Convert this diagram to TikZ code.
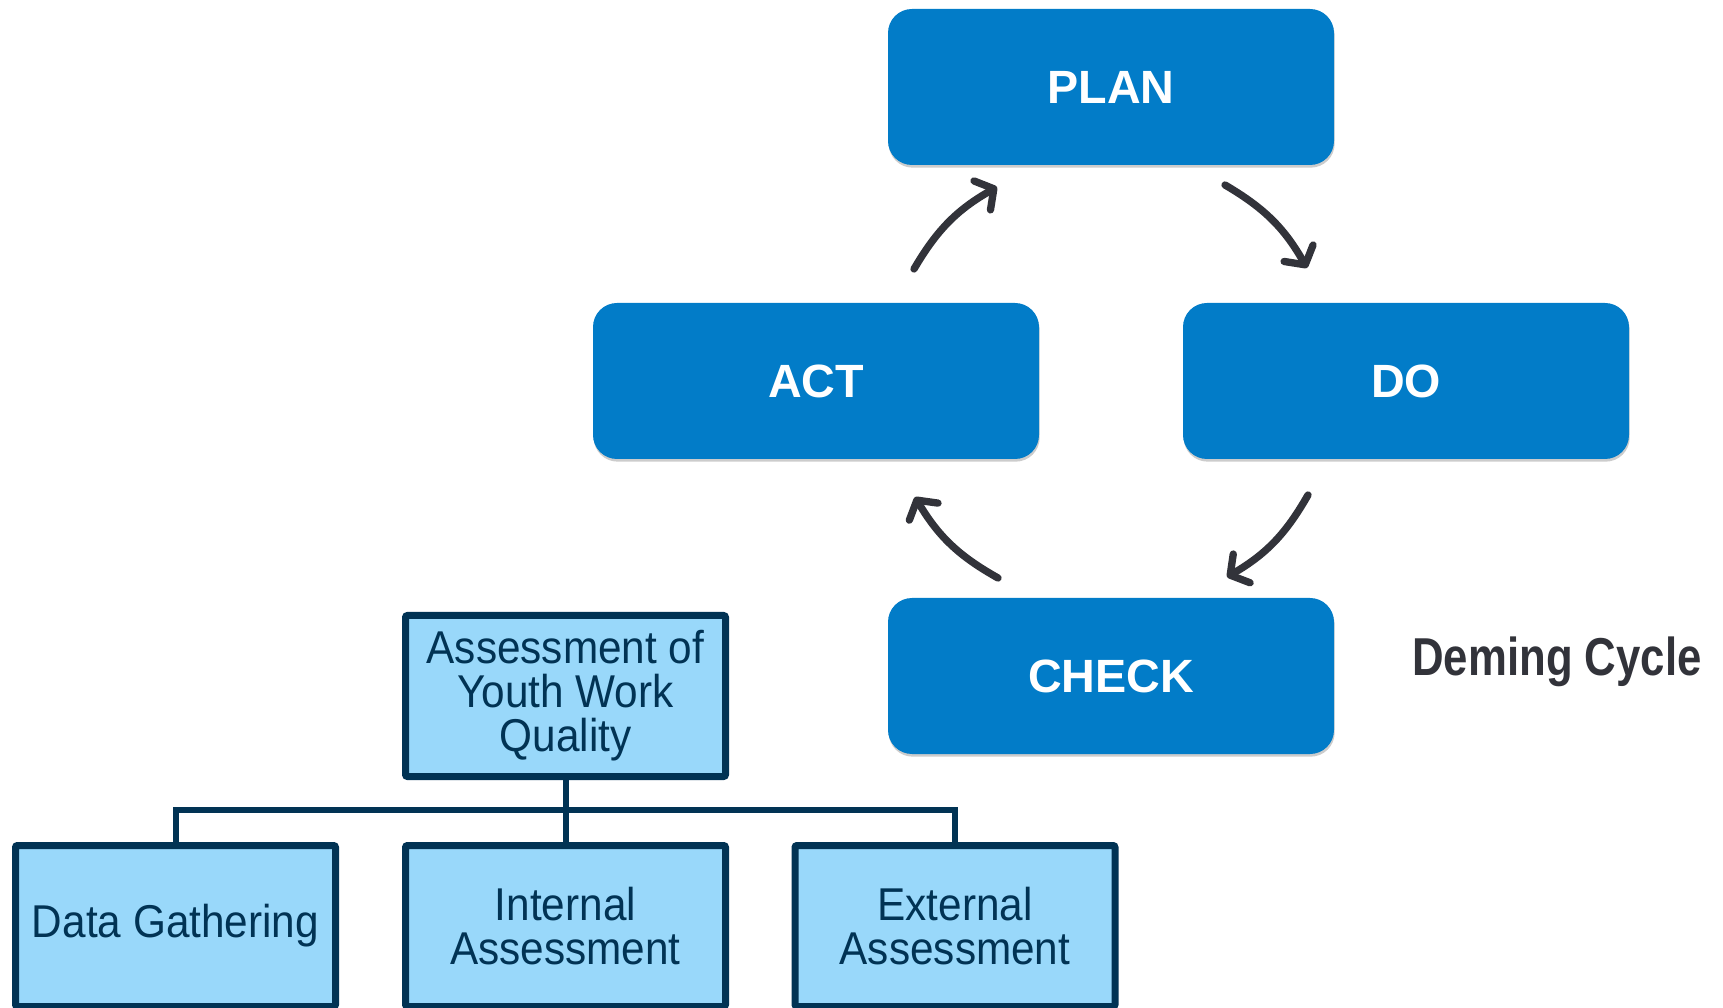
\documentclass[tikz,border=0pt]{standalone}
\usepackage{fontspec}
\setmainfont{Liberation Sans}
\newfontfamily\narrowsans[FakeStretch=0.92]{Liberation Sans}
\newfontfamily\titlesans[FakeStretch=0.82]{Liberation Sans}
\usetikzlibrary{arrows.meta,shadows}
\definecolor{pdcablue}{RGB}{2,124,200}
\definecolor{arrowgray}{RGB}{50,51,58}
\definecolor{treenavy}{RGB}{1,51,84}
\definecolor{treelight}{RGB}{153,216,250}
\begin{document}
\begin{tikzpicture}[x=0.75pt,y=0.75pt,
    phase/.style={rectangle, rounded corners=18pt, fill=pdcablue, text=white,
        minimum width=334.5pt, minimum height=117pt, inner sep=0pt,
        font=\bfseries\fontsize{35}{42}\selectfont,
        drop shadow={shadow xshift=0.5pt, shadow yshift=-2pt, opacity=0.2, fill=black}},
    cyclearrow/.style={draw=arrowgray, line width=5.5pt, line cap=round,
        -{Straight Barb[length=10pt, width=25pt, line cap=round, line join=round]}},
    treebox/.style={rectangle, draw=treenavy, line width=5.25pt, fill=treelight,
        text=treenavy, rounded corners=1.5pt, minimum width=240pt, minimum height=120.75pt,
        inner sep=0pt, align=center, font=\narrowsans\fontsize{34.5}{33}\selectfont,
        drop shadow={shadow xshift=1pt, shadow yshift=-1pt, opacity=0.2, fill=black}},
    treeline/.style={draw=treenavy, line width=4.5pt}]
    \useasboundingbox (0,0) rectangle (1723,1007);
    % Deming cycle
    \node[phase] (plan) at (1111, 920) {PLAN};
    \node[phase] (act) at (816, 626) {ACT};
    \node[phase] (do) at (1406, 626) {DO};
    \node[phase] (check) at (1111, 331) {CHECK};
    \node[font=\titlesans\bfseries\fontsize{40}{48}\selectfont, text=arrowgray] (deming) at (1557, 345) {Deming Cycle};
    \coordinate (act-out) at (914, 738);
    \coordinate (plan-in) at (997, 820);
    \coordinate (plan-out) at (1225, 822);
    \coordinate (do-in) at (1307, 739);
    \coordinate (do-out) at (1308, 512);
    \coordinate (check-in) at (1227, 430);
    \coordinate (check-out) at (998, 429);
    \coordinate (act-in) at (915, 510);
    \draw[cyclearrow] (act-out) to[bend left=15] (plan-in);
    \draw[cyclearrow] (plan-out) to[bend left=15] (do-in);
    \draw[cyclearrow] (do-out) to[bend left=15] (check-in);
    \draw[cyclearrow] (check-out) to[bend left=15] (act-in);
    % assessment tree
    \node[treebox] (quality) at (565.5, 311) {Assessment of\\Youth Work\\Quality};
    \node[treebox] (data) at (175.5, 81) {Data Gathering};
    \node[treebox] (internal) at (565.5, 81) {Internal\\Assessment};
    \node[treebox] (external) at (955, 81) {External\\Assessment};
    \coordinate (branch) at (565.5, 197);
    \draw[treeline] (quality.south) -- (internal.north);
    \draw[treeline] (data.north) |- (branch) -| (external.north);
\end{tikzpicture}
\end{document}
